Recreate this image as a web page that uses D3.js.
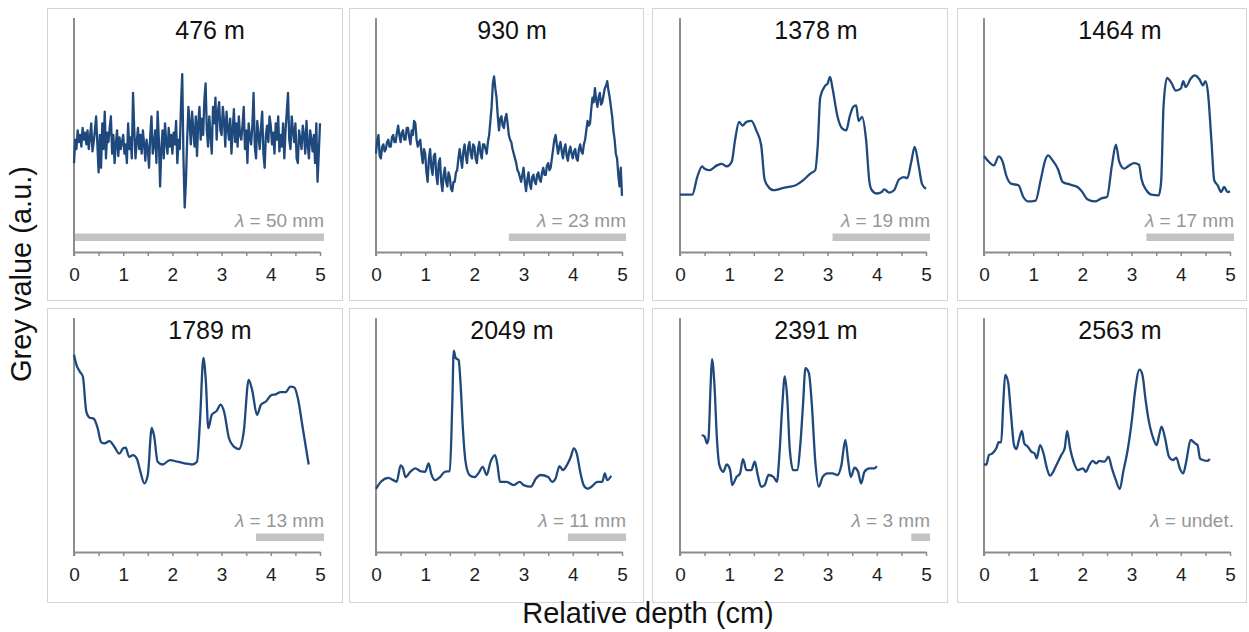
<!DOCTYPE html>
<html><head><meta charset="utf-8">
<script src="https://cdn.jsdelivr.net/npm/d3@7"></script>
<style>
html,body{margin:0;padding:0;background:#fff;}
svg{display:block;font-family:"Liberation Sans",Arial,sans-serif;}
</style></head>
<body><svg id="chart" width="1249" height="632"></svg>
<script>
// ---- Data ----
const panelTitles = ["476 m","930 m","1378 m","1464 m","1789 m","2049 m","2391 m","2563 m"];
const lambdaMm = [50, 23, 19, 17, 13, 11, 3, null];
const lambdaLabels = ["50 mm","23 mm","19 mm","17 mm","13 mm","11 mm","3 mm","undet."];
const xTickValues = [0,1,2,3,4,5];

// noisy profiles sampled every 0.025 cm from 0 to 5 cm
const sampleStep = 0.025;
const grey476 = [
  38,48,44,52,47,50,45,53,48,51,46,52,44,49,55,43,47,52,58,46,
  34,50,36,55,44,60,40,51,47,53,58,42,50,38,46,52,41,49,44,47,
  50,42,46,38,55,44,49,40,68,52,40,47,53,44,50,42,52,46,39,48,
  44,36,50,58,42,46,52,38,60,48,28,44,52,40,55,47,42,53,45,50,
  42,51,46,56,38,48,44,63,76,40,19,30,48,62,55,46,60,52,45,58,
  41,55,62,48,57,50,65,72,52,45,58,50,42,62,55,66,48,60,64,52,
  50,62,56,45,60,53,48,57,42,52,61,47,55,45,58,50,48,54,62,44,
  52,38,55,49,46,54,68,45,40,56,50,44,53,60,42,36,50,54,47,58,
  54,46,51,42,55,48,58,43,50,45,55,40,52,60,68,48,44,58,52,47,
  55,40,38,52,48,44,54,50,42,56,46,40,52,48,43,50,38,55,30,42,55];
const grey930 = [
  42,48,50,41,40,45,46,43,44,47,48,45,45,49,50,47,47,51,54,50,
  47,51,52,48,48,53,53,49,46,52,50,56,55,48,45,47,48,42,38,44,
  42,34,30,40,44,36,33,41,42,33,29,38,40,30,26,33,36,30,28,34,
  32,27,26,30,30,34,35,40,44,40,36,43,46,41,38,45,47,42,40,46,
  45,40,38,44,47,42,40,46,46,44,42,47,50,56,62,72,75,70,66,58,
  52,57,58,54,53,57,59,55,50,48,47,44,42,40,38,35,34,32,30,33,
  36,30,26,31,34,29,27,32,33,30,29,33,34,31,30,34,36,33,33,37,
  38,35,36,40,44,48,50,46,42,45,47,43,40,44,46,41,39,43,45,42,
  40,43,44,40,39,44,46,43,42,46,48,52,56,54,55,61,66,64,70,65,
  62,66,68,63,64,67,70,71,73,69,66,62,58,52,48,42,40,33,28,36,24];

// smoother profiles: [depth (cm), grey value]
const profile1378 = [[0,24.5],[0.25,24.5],[0.35,32],[0.45,36.6],[0.5,35.6],[0.6,35],[0.75,37],[0.85,37.7],[0.95,36.6],[1.05,38.5],[1.12,48],[1.2,55.6],[1.27,54],[1.35,55.6],[1.45,56],[1.55,52],[1.65,45.6],[1.72,31],[1.8,27.8],[1.9,26.4],[2.0,26.8],[2.1,27.4],[2.2,27.8],[2.35,28.5],[2.5,30.6],[2.65,33.5],[2.75,35],[2.8,45.6],[2.85,66],[2.95,71],[3.0,72],[3.05,74.8],[3.1,70],[3.2,58],[3.3,52.7],[3.38,52],[3.45,58],[3.52,62],[3.58,62.7],[3.63,56],[3.7,57.7],[3.78,48.4],[3.85,30],[3.9,26.4],[4.0,25],[4.1,25.6],[4.15,26.8],[4.25,25.4],[4.35,26.4],[4.45,31],[4.55,32],[4.62,31.6],[4.7,38.5],[4.77,44.9],[4.85,37],[4.92,29],[5.0,27]];
const profile1464 = [[0,41],[0.1,38.5],[0.2,37],[0.3,40.9],[0.38,38.5],[0.45,32.8],[0.55,29.2],[0.7,28.5],[0.8,23.5],[0.9,21.6],[1.05,22],[1.15,30.6],[1.25,39.6],[1.3,41.3],[1.4,39],[1.5,35.6],[1.6,29.9],[1.75,28.8],[1.9,27.8],[2.0,25.6],[2.1,22.5],[2.25,21.6],[2.4,23],[2.5,23.5],[2.6,37],[2.68,45.9],[2.75,38.5],[2.85,35.6],[2.95,37],[3.05,38],[3.15,37.3],[3.2,31.3],[3.3,26.4],[3.4,24.5],[3.55,24.2],[3.6,29.9],[3.65,62.7],[3.72,74.4],[3.8,72.6],[3.9,69],[4.0,69.8],[4.05,73],[4.1,70.5],[4.2,74],[4.28,75.5],[4.38,73.8],[4.45,71.2],[4.5,73],[4.55,68.4],[4.62,48.4],[4.68,30.6],[4.75,28.5],[4.82,25.6],[4.88,27.8],[4.95,25.6],[5.0,26]];
const profile1789 = [[0,84.3],[0.05,80],[0.12,77],[0.18,75],[0.25,60],[0.32,57.4],[0.4,57],[0.48,53],[0.55,47],[0.62,46.4],[0.72,47.4],[0.82,45],[0.92,42],[1.0,44.3],[1.05,44.6],[1.12,40.7],[1.2,41.4],[1.28,39.7],[1.35,34.3],[1.43,29.3],[1.5,32.9],[1.58,53],[1.63,49.3],[1.7,38.6],[1.8,37.4],[1.95,39.3],[2.1,38.6],[2.25,37.9],[2.4,37.4],[2.5,38.6],[2.56,55.7],[2.63,82.9],[2.68,72.9],[2.73,52.9],[2.8,58.6],[2.9,60.3],[2.98,63],[3.05,60],[3.15,48.6],[3.25,45],[3.35,44],[3.45,51.4],[3.55,73.6],[3.62,69.3],[3.72,58.6],[3.8,62.9],[3.9,64.3],[4.0,66.9],[4.1,67.4],[4.2,68.3],[4.3,68.3],[4.4,70.7],[4.48,70.3],[4.55,65.7],[4.65,52.9],[4.77,37.4]];
const profile2049 = [[0,27],[0.1,30],[0.25,31.7],[0.35,30.7],[0.42,30],[0.5,37],[0.55,35.7],[0.6,32],[0.7,34.3],[0.8,35.7],[0.9,34.6],[1.0,34.3],[1.07,37.9],[1.12,33.6],[1.2,30.7],[1.3,32],[1.4,34.3],[1.5,34.6],[1.55,62.9],[1.58,86],[1.62,82.9],[1.68,82],[1.72,71.4],[1.77,51.4],[1.82,38.6],[1.9,32.9],[2.0,32],[2.08,33.6],[2.17,36.4],[2.25,32.9],[2.33,38.6],[2.42,41.4],[2.47,37],[2.52,30],[2.65,30],[2.8,28.6],[2.92,30],[3.0,28.6],[3.15,27.9],[3.25,31.4],[3.35,32.9],[3.5,32],[3.58,30],[3.65,31.4],[3.73,36.7],[3.8,35],[3.88,37.1],[3.96,40.7],[4.02,44.3],[4.08,42.1],[4.15,34.3],[4.22,28.6],[4.3,27.1],[4.38,27.9],[4.5,30],[4.6,30],[4.65,33.6],[4.7,30.7],[4.78,32.6]];
const profile2391 = [[0.44,50],[0.5,49.3],[0.55,46.4],[0.58,48.6],[0.62,70],[0.65,82.4],[0.7,71.4],[0.75,48.6],[0.8,37.1],[0.88,34.3],[0.95,37.4],[1.02,35],[1.06,28.6],[1.15,32.1],[1.22,33.6],[1.28,39.7],[1.35,35],[1.45,35],[1.52,38.6],[1.58,32.9],[1.65,27.9],[1.72,28.6],[1.8,32.9],[1.9,32.1],[1.97,30],[2.02,41.4],[2.08,62.9],[2.13,75],[2.18,65.7],[2.23,44.3],[2.3,35],[2.38,35],[2.45,47.1],[2.5,62.9],[2.55,78.6],[2.62,76.4],[2.68,62.9],[2.75,38.6],[2.82,27.9],[2.9,32.1],[3.0,33.6],[3.1,33.6],[3.2,32.9],[3.28,37.1],[3.36,47.9],[3.42,38.6],[3.47,32.1],[3.55,36],[3.62,34.3],[3.68,29.3],[3.75,34.3],[3.85,35.7],[3.95,35.7],[4.0,36.7]];
const profile2563 = [[0,37.4],[0.05,37.4],[0.1,41.4],[0.17,42.1],[0.25,44.3],[0.3,46.9],[0.35,46.9],[0.39,62.9],[0.43,75.7],[0.49,72.6],[0.55,58.6],[0.61,45.7],[0.66,44],[0.71,47.9],[0.77,51.7],[0.82,46.4],[0.89,45],[0.96,42.9],[1.03,42.1],[1.07,40],[1.14,45.7],[1.21,42.1],[1.28,35.7],[1.34,32.6],[1.47,37.1],[1.57,41.4],[1.64,44.3],[1.69,51.7],[1.75,44.3],[1.82,38.6],[1.91,35],[2.01,35.7],[2.07,34.3],[2.14,37.1],[2.21,38.9],[2.28,37.9],[2.34,38.9],[2.45,38.6],[2.53,40.7],[2.6,35.7],[2.68,30.7],[2.76,26.9],[2.83,34.3],[2.92,43.6],[3.01,57.1],[3.07,68.6],[3.16,77.9],[3.22,75.7],[3.28,65.7],[3.34,57.1],[3.44,48.6],[3.51,45.7],[3.56,50],[3.61,53.6],[3.68,48.6],[3.76,40.7],[3.84,39.3],[3.91,40.3],[3.98,35.7],[4.05,33.6],[4.11,38.6],[4.2,47.9],[4.29,46.4],[4.34,45.7],[4.39,40],[4.45,39.3],[4.54,38.9],[4.59,39.7]];

const toPairs = vals => vals.map((v,i) => [i*sampleStep, v]);
const profiles = [toPairs(grey476), toPairs(grey930), profile1378, profile1464,
                  profile1789, profile2049, profile2391, profile2563];

// ---- Layout ----
const svg = d3.select("#chart");
const colX0 = [74, 376, 680, 984];
const boxLeft = [47, 349, 652, 957];
const boxRight = [342, 643, 947, 1246];
const boxTop = [8, 308];
const boxBottom = [300, 602];
const plotW = 246;
const rowTop = [18, 318];
const rowAxis = [252, 552];

const lineColor = "#1f497d";
const axisColor = "#8c8c8c";

panelTitles.forEach((title, i) => {
  const col = i % 4, row = Math.floor(i / 4);
  svg.append("rect")
    .attr("x", boxLeft[col] + 0.5).attr("y", boxTop[row] + 0.5)
    .attr("width", boxRight[col] - boxLeft[col]).attr("height", boxBottom[row] - boxTop[row])
    .attr("fill", "none").attr("stroke", "#d4d4d4").attr("stroke-width", 1);

  const x = d3.scaleLinear().domain([0, 5]).range([colX0[col], colX0[col] + plotW]);
  const y = d3.scaleLinear().domain([0, 100]).range([rowAxis[row], rowTop[row]]);
  const g = svg.append("g");

  if (lambdaMm[i] !== null) {
    g.append("rect")
      .attr("x", x(5 - lambdaMm[i] / 10)).attr("y", rowAxis[row] - 18.5)
      .attr("width", x(5) - x(5 - lambdaMm[i] / 10) + 4).attr("height", 7.5)
      .attr("fill", "#c3c3c3");
  }
  const lt = g.append("text")
    .attr("x", x(5) + 4).attr("y", rowAxis[row] - 25)
    .attr("text-anchor", "end").attr("font-size", 19).attr("fill", "#969696");
  lt.append("tspan").attr("font-style", "italic").text("λ");
  lt.append("tspan").text(" = " + lambdaLabels[i]);

  g.append("line")
    .attr("x1", x(0)).attr("x2", x(0))
    .attr("y1", rowTop[row]).attr("y2", rowAxis[row] + 4)
    .attr("stroke", axisColor).attr("stroke-width", 2);

  const ax = g.append("g").attr("transform", `translate(0,${rowAxis[row]})`)
    .call(d3.axisBottom(x).tickValues(d3.range(0, 5.01, 0.5)).tickSize(4).tickSizeOuter(0)
      .tickFormat(d => xTickValues.includes(d) ? d3.format("d")(d) : ""));
  ax.select(".domain").attr("stroke", axisColor).attr("stroke-width", 2);
  ax.selectAll(".tick line").attr("stroke", axisColor).attr("stroke-width", 1.5);
  ax.selectAll(".tick text").attr("font-size", 19).attr("fill", "#1e1e1e")
    .attr("font-family", "Liberation Sans, Arial, sans-serif").attr("dy", 0).attr("y", 28.5);

  const smooth = i >= 2;
  g.append("path").datum(profiles[i])
    .attr("d", d3.line().x(d => x(d[0])).y(d => y(d[1]))
      .curve(smooth ? d3.curveMonotoneX : d3.curveLinear))
    .attr("fill", "none").attr("stroke", lineColor).attr("stroke-width", 2.3)
    .attr("stroke-linejoin", "round");

  g.append("text")
    .attr("x", colX0[col] + 136).attr("y", rowTop[row] + 20.5)
    .attr("text-anchor", "middle").attr("font-size", 25).attr("fill", "#111")
    .text(title);
});

svg.append("text")
  .attr("transform", "translate(31,274) rotate(-90)")
  .attr("text-anchor", "middle").attr("font-size", 29).attr("fill", "#111")
  .text("Grey value (a.u.)");
svg.append("text")
  .attr("x", 648).attr("y", 623)
  .attr("text-anchor", "middle").attr("font-size", 29).attr("fill", "#111")
  .text("Relative depth (cm)");
</script></body></html>
